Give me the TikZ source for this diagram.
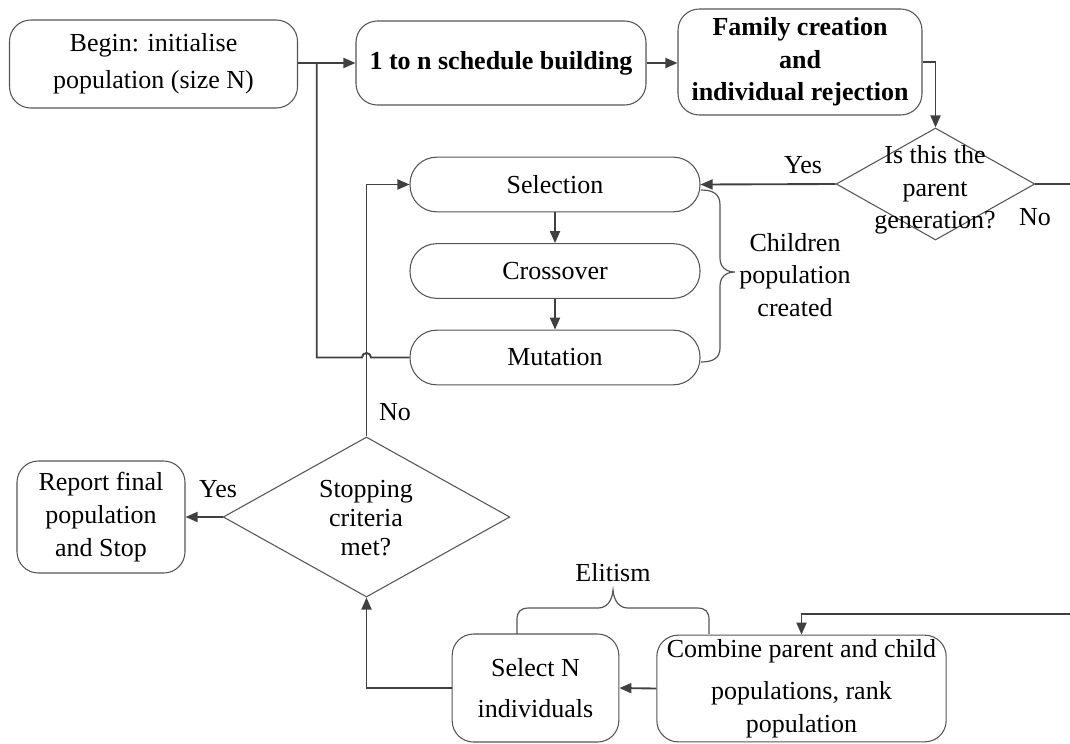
\documentclass[tikz,border=0pt]{standalone}
\usepackage{fontspec}
\setmainfont{Liberation Serif}
\usetikzlibrary{arrows.meta,shapes.geometric}
\definecolor{boxgray}{HTML}{555555}
\definecolor{linegray}{HTML}{404040}

\begin{document}
\begin{tikzpicture}[x=0.75pt,y=-0.75pt,
  font=\fontsize{19.5}{24.5}\selectfont,
  box/.style={draw=boxgray,line width=0.8pt,rounded corners=16pt,align=center,inner sep=0pt},
  pill/.style={box,rounded corners=20pt,minimum width=217.5pt,minimum height=41pt},
  dec/.style={draw=boxgray,line width=0.8pt,diamond,inner sep=0pt},
  lbl/.style={align=center,inner sep=0pt},
  ln/.style={draw=linegray,line width=1.4pt},
  arr/.style={ln,-{Triangle[length=9pt,width=7.5pt]}},
  brc/.style={draw=boxgray,line width=0.9pt}]
\useasboundingbox (0,0) rectangle (1070,743);

% top row
\node[box,minimum width=216pt,minimum height=66pt] (begin) at (153.5,64)
  {Begin: initialise\\[3pt]population (size N)};
\node[box,minimum width=217.5pt,minimum height=63pt,font=\fontsize{19.5}{24.5}\selectfont\bfseries] (build) at (501,63)
  {1 to n schedule building};
\node[box,minimum width=183pt,minimum height=79.5pt,font=\fontsize{19.5}{24.5}\selectfont\bfseries] (family) at (800,62)
  {Family creation\\and\\individual rejection};
\node[dec,minimum width=149pt,minimum height=84pt] (par) at (935.5,184) {};
\node[lbl] (partext) at (935,190) {Is this the\\parent\\generation?};

% genetic operators
\node[pill] (selection) at (555,184.5) {Selection};
\node[pill] (crossover) at (555,271) {Crossover};
\node[pill] (mutation) at (555,357.5) {Mutation};
\node[lbl] (kids) at (795,275) {Children\\population\\created};

% stopping test
\node[dec,minimum width=215pt,minimum height=120pt] (stop) at (366.5,517) {};
\node[lbl] (stoptext) at (366,518) {Stopping\\[-3pt]criteria\\[-3pt]met?};
\node[box,minimum width=126pt,minimum height=84pt] (report) at (101,517)
  {Report final\\population\\and Stop};

% bottom row
\node[box,minimum width=125pt,minimum height=81pt] (select) at (535.5,688)
  {Select N\\[6pt]individuals};
\node[box,minimum width=217pt,minimum height=80pt] (combine) at (801.5,688.5)
  {Combine parent and child\\[7pt]populations, rank\\population};
\node[lbl] (elit) at (613,573) {Elitism};

\coordinate (jn) at (316.7,63);
\coordinate (hop) at (stop.north |- mutation.west);
\coordinate (noend) at (1070,184);
\coordinate (back) at (1070,614);

\draw[arr] (begin.east |- build.west) -- (build.west);
\draw[arr] (build.east) -- (family.west |- build.east);
\draw[arr] (family.east) -| (par.north);
\draw[arr] (par.west) -- (selection.east);
\draw[ln] (par.east) -- (noend);
\draw[arr] (selection) -- (crossover);
\draw[arr] (crossover) -- (mutation);
\draw[ln] (mutation.west) -- ([xshift=3.4pt]hop) arc[start angle=0,end angle=180,radius=3.4pt]
  -- (jn |- hop) -- (jn);
\draw[arr] (stop.north) |- (selection.west);
\draw[arr] (stop.west) -- (report.east);
\draw[arr] (back) -| (combine.north);
\draw[arr] (combine.west) -- (select.east);
\draw[arr] (select.west) -| (stop.south);

\node[lbl] at (803,165) {Yes};
\node[lbl] at (1035,217) {No};
\node[lbl] at (395,412) {No};
\node[lbl] at (218,489) {Yes};

% braces
\draw[brc] (701,190) .. controls (713,190) and (720,194) .. (720,205) -- (720,258)
  .. controls (720,267) and (726,272) .. (735,272)
  .. controls (726,272) and (720,277) .. (720,286) -- (720,348)
  .. controls (720,358) and (713,362) .. (701,362);
\draw[brc] (517,634) -- (517,620) .. controls (517,612) and (520,608) .. (529,608) -- (598,608)
  .. controls (606,608) and (612,602) .. (613,590)
  .. controls (614,602) and (620,608) .. (628,608) -- (697,608)
  .. controls (706,608) and (709,612) .. (709,620) -- (709,634);
\end{tikzpicture}
\end{document}
